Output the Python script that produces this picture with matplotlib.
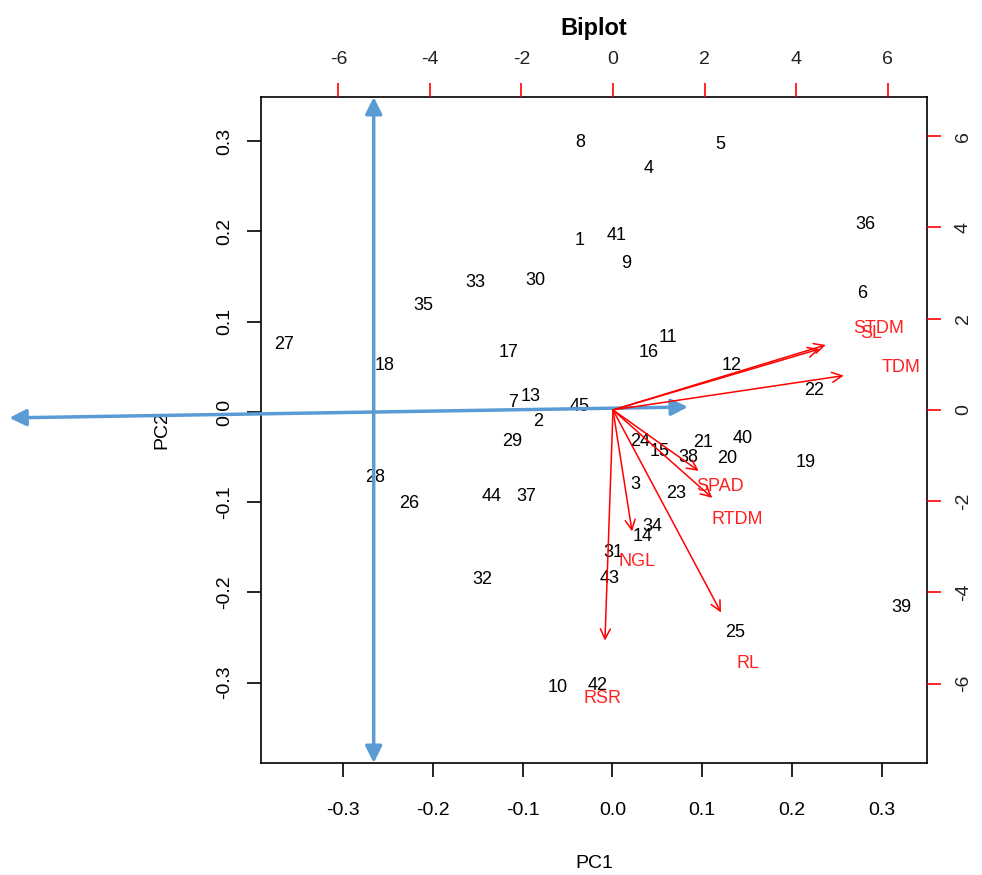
import matplotlib
matplotlib.use("Agg")
import matplotlib.pyplot as plt

plt.rcParams['font.family'] = ['Liberation Sans', 'DejaVu Sans']
plt.rcParams['axes.unicode_minus'] = False

# observation scores (PC1, PC2)
obs_labels = [str(i) for i in range(1, 46)]
pc1 = [-0.036, -0.083, 0.026, 0.040, 0.120, 0.278, -0.111, -0.036, 0.015, -0.061,
       0.062, 0.133, -0.091, 0.034, 0.053, 0.040, -0.116, -0.254, 0.215, 0.128,
       0.101, 0.224, 0.071, 0.031, 0.137, -0.226, -0.365, -0.264, -0.112, -0.086,
       0.001, -0.145, -0.152, 0.044, -0.210, 0.282, -0.096, 0.085, 0.322, 0.145,
       0.005, -0.017, -0.003, -0.134, -0.036]
pc2 = [0.190, -0.011, -0.080, 0.270, 0.296, 0.131, 0.010, 0.299, 0.165, -0.305,
       0.083, 0.051, 0.017, -0.138, -0.044, 0.066, 0.066, 0.052, -0.056, -0.052,
       -0.034, 0.024, -0.090, -0.033, -0.244, -0.102, 0.075, -0.073, -0.033, 0.146,
       -0.156, -0.186, 0.143, -0.127, 0.118, 0.208, -0.094, -0.051, -0.217, -0.029,
       0.196, -0.303, -0.185, -0.094, 0.006]

# variable loadings (label positions, arrows drawn at 0.8 of these)
var_labels = ["STDM", "SL", "TDM", "SPAD", "RTDM", "NGL", "RL", "RSR"]
load1 = [5.81, 5.64, 6.30, 2.34, 2.71, 0.52, 2.95, -0.22]
load2 = [1.78, 1.67, 0.94, -1.67, -2.41, -3.33, -5.55, -6.32]

fig = plt.figure(figsize=(9.82, 8.75), dpi=100)
rect = [261 / 982, 1 - 763 / 875, (927 - 261) / 982, (763 - 97) / 875]
ax = fig.add_axes(rect)
ax.set_xlim(-0.391, 0.350)
ax.set_ylim(-0.389, 0.349)
for i, lab in enumerate(obs_labels):
    ax.text(pc1[i], pc2[i], lab, ha='center', va='center', fontsize=13, color='black')
ax.set_xticks([-0.3, -0.2, -0.1, 0.0, 0.1, 0.2, 0.3])
ax.set_yticks([-0.3, -0.2, -0.1, 0.0, 0.1, 0.2, 0.3])
ax.set_xticklabels(["-0.3", "-0.2", "-0.1", "0.0", "0.1", "0.2", "0.3"])
ax.set_yticklabels(["-0.3", "-0.2", "-0.1", "0.0", "0.1", "0.2", "0.3"], rotation=90, va='center')
ax.tick_params(direction='out', length=10, width=1.2, labelsize=14, pad=10)
ax.tick_params(axis='x', pad=18)
ax.set_xlabel("PC1", fontsize=14, labelpad=26)
ax.set_ylabel("PC2", fontsize=14, labelpad=33)
for s in ax.spines.values():
    s.set_linewidth(1.2)

ax2 = fig.add_axes(rect, frameon=False)
ax2.set_xlim(-7.69, 6.86)
ax2.set_ylim(-7.74, 6.86)
ax2.xaxis.tick_top()
ax2.yaxis.tick_right()
ax2.set_xticks([-6, -4, -2, 0, 2, 4, 6])
ax2.set_yticks([-6, -4, -2, 0, 2, 4, 6])
ax2.set_xticklabels(["-6", "-4", "-2", "0", "2", "4", "6"])
ax2.set_yticklabels(["-6", "-4", "-2", "0", "2", "4", "6"], rotation=90, va='center')
ax2.tick_params(direction='out', length=10, width=1.2, colors='red', labelcolor='#222222',
                labelsize=14, pad=10)
ax2.tick_params(axis='x', pad=11)
for i, lab in enumerate(var_labels):
    ax2.annotate("", xy=(0.8 * load1[i], 0.8 * load2[i]), xytext=(0, 0),
                 arrowprops=dict(arrowstyle='->', color='red', lw=1.1,
                                 shrinkA=0, shrinkB=0, mutation_scale=18))
    ax2.text(load1[i], load2[i], lab, ha='center', va='center', fontsize=13, color='#ff2020')

ax.set_title("Biplot", fontsize=17, fontweight='bold', pad=45)

# blue annotation arrows
blue = '#5b9bd5'
ax.annotate("", xy=(-0.2656, 0.349), xytext=(-0.2656, -0.389), annotation_clip=False,
            arrowprops=dict(arrowstyle='<|-|>', color=blue, lw=2.5, shrinkA=0, shrinkB=0,
                            mutation_scale=25))
ax.annotate("", xy=(0.084, 0.0055), xytext=(-0.671, -0.0066), annotation_clip=False,
            arrowprops=dict(arrowstyle='<|-|>', color=blue, lw=2.5, shrinkA=0, shrinkB=0,
                            mutation_scale=25))

fig.savefig("out.png", dpi=100)
